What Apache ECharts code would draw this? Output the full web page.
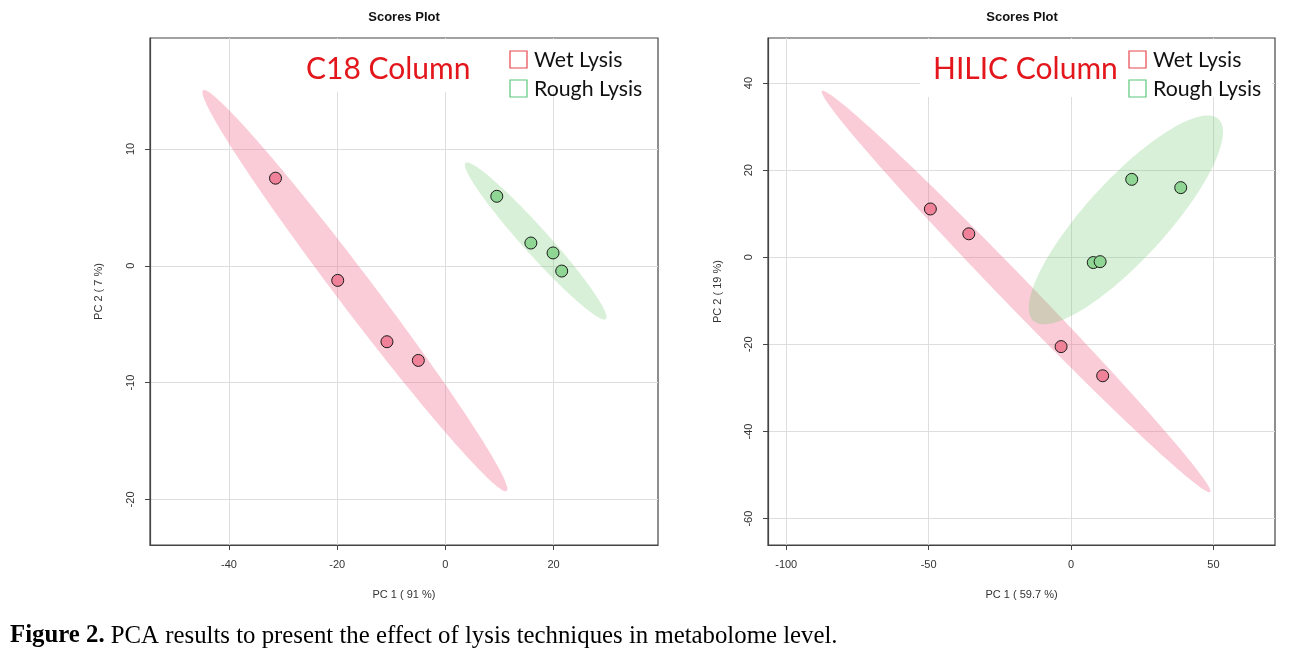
<!DOCTYPE html>
<html>
<head>
<meta charset="utf-8">
<script src="https://cdn.jsdelivr.net/npm/echarts@6/dist/echarts.min.js"></script>
<style>
html,body{margin:0;padding:0;background:#fff;}
#chart{width:1296px;height:651px;}
</style>
</head>
<body>
<div id="chart"></div>
<script>
// ---------- data ----------
const groups = ['Wet Lysis', 'Rough Lysis'];
const panelTitles = ['C18 Column', 'HILIC Column'];
const xNames = ['PC 1 ( 91 %)', 'PC 1 ( 59.7 %)'];
const yNames = ['PC 2 ( 7 %)', 'PC 2 ( 19 %)'];

const c18XTicks = [-40, -20, 0, 20];
const c18YTicks = [-20, -10, 0, 10];
const hilicXTicks = [-100, -50, 0, 50];
const hilicYTicks = [-60, -40, -20, 0, 20, 40];

const c18XRange = [-54.6, 39.3];
const c18YRange = [-23.9, 19.5];
const hilicXRange = [-106.4, 71.6];
const hilicYRange = [-66.06, 50.36];

const c18Wet = [[-31.4, 7.5], [-19.9, -1.25], [-10.8, -6.5], [-5.0, -8.1]];
const c18Rough = [[9.5, 5.95], [15.8, 1.95], [19.9, 1.1], [21.5, -0.45]];
const hilicWet = [[-49.4, 11.1], [-35.9, 5.4], [-3.5, -20.5], [11.1, -27.2]];
const hilicRough = [[21.3, 17.9], [38.5, 16.0], [7.8, -1.2], [10.2, -1.0]];

// confidence ellipses: [centerX, centerY, axis1X, axis1Y, axis2X, axis2Y] in data units
const c18WetEllipse = [-16.73, -2.13, 28.06, -17.15, 2.65, 0.93];
const c18RoughEllipse = [16.70, 2.12, 12.97, -6.68, 1.79, 0.745];
const hilicWetEllipse = [-19.3, -7.85, 68.14, -46.04, 3.66, 2.31];
const hilicRoughEllipse = [19.25, 8.6, 32.49, 23.16, 10.35, -6.21];

const caption = 'PCA results to present the effect of lysis techniques in metabolome level.';

// ---------- chart ----------
const pinkFill = 'rgba(240,110,140,0.35)';
const greenFill = 'rgba(110,200,110,0.28)';
const pinkPoint = '#ef8199';
const greenPoint = '#8fd694';

function ellipseRender(params, api) {
  const cx = api.value(0), cy = api.value(1), ux = api.value(2), uy = api.value(3), vx = api.value(4), vy = api.value(5);
  const pts = [];
  const n = 160;
  for (let i = 0; i < n; i++) {
    const t = i / n * Math.PI * 2;
    pts.push(api.coord([cx + ux * Math.cos(t) + vx * Math.sin(t), cy + uy * Math.cos(t) + vy * Math.sin(t)]));
  }
  return { type: 'polygon', shape: { points: pts }, style: { fill: api.visual('color') } };
}

const gridBox = [
  { left: 150, top: 38, width: 508, height: 507 },
  { left: 768, top: 38, width: 507, height: 507 }
];

function xAxisCfg(i, range, ticks) {
  return {
    gridIndex: i, type: 'value', min: range[0], max: range[1],
    name: xNames[i], nameLocation: 'middle', nameGap: 44,
    nameTextStyle: { fontFamily: 'Liberation Sans', fontSize: 11, color: '#333' },
    axisLine: { show: true, onZero: false, lineStyle: { color: '#444', width: 1.2 } },
    axisTick: { show: true, length: 5, customValues: ticks, lineStyle: { color: '#444' } },
    axisLabel: { customValues: ticks, fontFamily: 'Liberation Sans', fontSize: 11, color: '#333', margin: 14 },
    splitLine: { show: true, lineStyle: { color: '#dedede', width: 1 } }
  };
}
function yAxisCfg(i, range, ticks, gap) {
  return {
    gridIndex: i, type: 'value', min: range[0], max: range[1],
    name: yNames[i], nameLocation: 'middle', nameGap: gap,
    nameTextStyle: { fontFamily: 'Liberation Sans', fontSize: 11, color: '#333' },
    axisLine: { show: true, onZero: false, lineStyle: { color: '#444', width: 1.2 } },
    axisTick: { show: true, length: 5, customValues: ticks, lineStyle: { color: '#444' } },
    axisLabel: { customValues: ticks, rotate: 90, fontFamily: 'Liberation Sans', fontSize: 11, color: '#333', margin: 14 },
    splitLine: { show: true, lineStyle: { color: '#dedede', width: 1 } }
  };
}

function scatter(i, data, color) {
  return {
    type: 'scatter', xAxisIndex: i, yAxisIndex: i, data: data, symbolSize: 12, z: 5,
    itemStyle: { color: color, borderColor: '#1a1a1a', borderWidth: 1, opacity: 1 }
  };
}
function ellipse(i, params, color) {
  return {
    type: 'custom', xAxisIndex: i, yAxisIndex: i, renderItem: ellipseRender,
    data: [params], itemStyle: { color: color }, z: 2, silent: true,
    encode: { x: 0, y: 1 }
  };
}

const legendFont = 'Lato';
function legendGraphics(boxX, boxW, boxH, titleX, sqX, title) {
  return [
    { type: 'rect', shape: { x: boxX, y: 39, width: boxW, height: boxH }, style: { fill: '#fff' }, z: 50 },
    { type: 'text', x: titleX, y: 69, z: 51, style: { text: title, fill: '#e3161b', font: '30px ' + legendFont, textVerticalAlign: 'middle' } },
    { type: 'rect', shape: { x: sqX, y: 51, width: 17, height: 17 }, style: { fill: '#fff', stroke: '#e8474c', lineWidth: 1.2 }, z: 51 },
    { type: 'rect', shape: { x: sqX, y: 80, width: 17, height: 17 }, style: { fill: '#fff', stroke: '#5cc77a', lineWidth: 1.2 }, z: 51 },
    { type: 'text', x: sqX + 24, y: 60, z: 51, style: { text: groups[0], fill: '#111', font: '21.3px ' + legendFont, textVerticalAlign: 'middle' } },
    { type: 'text', x: sqX + 24, y: 89, z: 51, style: { text: groups[1], fill: '#111', font: '21.3px ' + legendFont, textVerticalAlign: 'middle' } }
  ];
}

const option = {
  backgroundColor: '#fff',
  animation: false,
  grid: gridBox.map(g => Object.assign({ show: true, borderColor: '#444', borderWidth: 1.2, backgroundColor: 'transparent' }, g)),
  xAxis: [xAxisCfg(0, c18XRange, c18XTicks), xAxisCfg(1, hilicXRange, hilicXTicks)],
  yAxis: [yAxisCfg(0, c18YRange, c18YTicks, 46), yAxisCfg(1, hilicYRange, hilicYTicks, 45)],
  series: [
    ellipse(0, c18WetEllipse, pinkFill),
    ellipse(0, c18RoughEllipse, greenFill),
    scatter(0, c18Wet, pinkPoint),
    scatter(0, c18Rough, greenPoint),
    ellipse(1, hilicWetEllipse, pinkFill),
    ellipse(1, hilicRoughEllipse, greenFill),
    scatter(1, hilicWet, pinkPoint),
    scatter(1, hilicRough, greenPoint)
  ],
  graphic: [
    { type: 'text', x: 404, y: 17, style: { text: 'Scores Plot', font: 'bold 13px "Liberation Sans"', fill: '#111', textAlign: 'center', textVerticalAlign: 'middle' } },
    { type: 'text', x: 1022, y: 17, style: { text: 'Scores Plot', font: 'bold 13px "Liberation Sans"', fill: '#111', textAlign: 'center', textVerticalAlign: 'middle' } },
    ...legendGraphics(296, 359, 53, 306, 510, panelTitles[0]),
    ...legendGraphics(920, 352, 58, 933, 1129, panelTitles[1]),
    { type: 'text', x: 10, y: 636, style: {
        text: '{b|Figure 2.} ' + caption,
        rich: { b: { fontWeight: 'bold', fontFamily: 'Liberation Serif', fontSize: 24.8, fill: '#000' } },
        fontFamily: 'Liberation Serif', fontSize: 24.8, fill: '#000', textVerticalAlign: 'middle' } }
  ]
};

const chart = echarts.init(document.getElementById('chart'), null, { renderer: 'canvas' });
chart.setOption(option);
</script>
</body>
</html>
